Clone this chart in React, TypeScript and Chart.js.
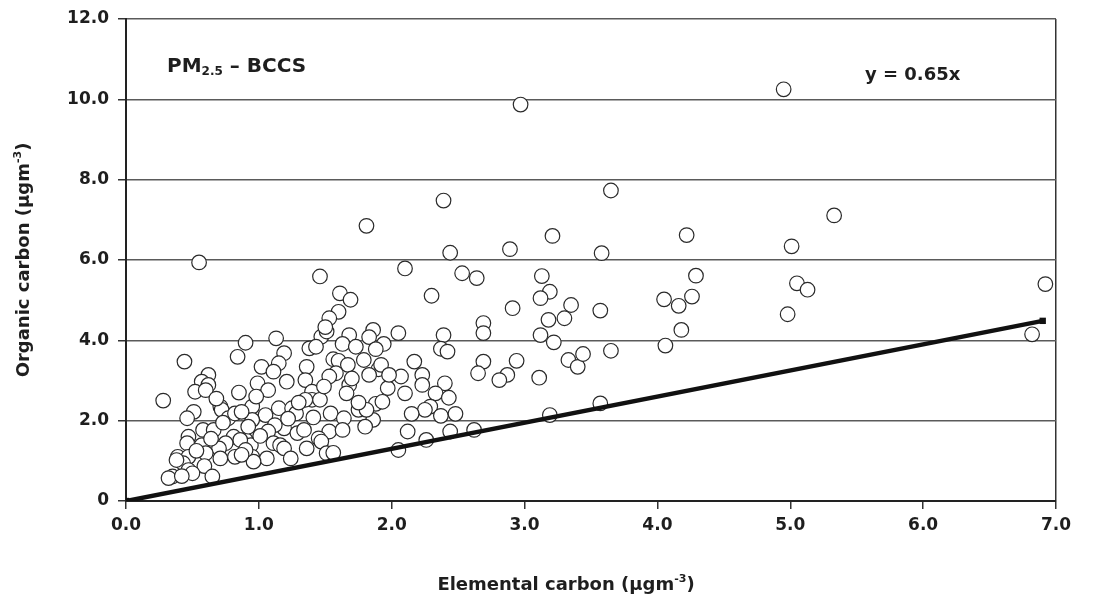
import React, { useEffect, useRef } from 'react';
import { Chart, registerables } from 'chart.js';

Chart.register(...registerables);

// Elemental carbon (x) and organic carbon (y), µg m-3
const ecValues = [
  2.97, 4.95, 3.65, 5.33, 4.22, 5.01, 3.58, 4.29, 5.05, 5.13,
  6.92, 4.05, 4.16, 4.26, 3.57, 4.98, 4.18, 4.06, 3.65, 6.82,
  3.57, 2.39, 1.81, 3.21, 2.44, 2.89, 2.10, 2.53, 2.64, 3.13,
  3.19, 3.12, 2.30, 3.35, 3.30, 3.18, 2.91, 2.69, 2.69, 2.39,
  3.12, 3.22, 2.37, 2.42, 2.05, 1.86, 1.83, 1.94, 1.88, 1.79,
  1.90, 1.83, 2.07, 2.17, 2.23, 2.23, 1.97, 2.10, 2.40, 2.33,
  2.43, 1.88, 1.76, 2.29, 2.25, 2.15, 2.37, 2.48, 2.69, 2.65,
  2.94, 2.87, 2.81, 3.11, 3.33, 3.40, 3.44, 3.19, 2.62, 1.92,
  1.98, 1.93, 1.86, 1.80, 2.12, 2.26, 2.44, 2.05, 1.13, 1.47,
  1.51, 1.68, 1.38, 1.43, 1.63, 1.73, 1.19, 1.15, 1.02, 1.11,
  1.36, 1.56, 1.60, 1.67, 1.58, 1.53, 1.35, 1.21, 0.99, 1.07,
  1.68, 1.66, 1.40, 1.40, 1.35, 1.46, 1.75, 1.81, 0.95, 1.15,
  1.25, 1.28, 1.54, 1.64, 1.41, 1.05, 0.95, 1.19, 1.12, 1.07,
  1.29, 1.34, 1.53, 1.63, 1.45, 1.47, 0.90, 0.94, 1.11, 1.16,
  1.19, 1.36, 1.06, 1.24, 0.95, 0.96, 1.51, 1.56, 0.90, 0.44,
  0.84, 0.62, 0.57, 0.62, 0.52, 0.60, 0.28, 0.85, 0.71, 0.72,
  0.51, 0.46, 0.77, 0.82, 0.87, 0.58, 0.66, 0.47, 0.46, 0.81,
  0.86, 0.75, 0.70, 0.57, 0.60, 0.90, 0.39, 0.47, 0.43, 0.71,
  0.82, 0.87, 0.59, 0.47, 0.50, 0.65, 0.35, 0.32, 0.55, 1.46,
  1.61, 1.69, 1.60, 1.53, 1.50, 1.75, 0.38, 0.42, 0.53, 0.64,
  0.73, 0.92, 1.01, 1.22, 1.30, 1.49, 1.70, 0.98, 0.68
];

const ocValues = [
  9.87, 10.25, 7.73, 7.11, 6.62, 6.34, 6.17, 5.61, 5.42, 5.26,
  5.40, 5.02, 4.86, 5.09, 4.74, 4.65, 4.26, 3.87, 3.74, 4.15,
  2.43, 7.48, 6.85, 6.60, 6.18, 6.27, 5.79, 5.67, 5.55, 5.60,
  5.21, 5.05, 5.11, 4.88, 4.55, 4.51, 4.80, 4.43, 4.18, 4.13,
  4.13, 3.95, 3.79, 3.72, 4.18, 4.26, 4.08, 3.91, 3.78, 3.51,
  3.28, 3.14, 3.10, 3.47, 3.14, 2.89, 2.81, 2.68, 2.93, 2.68,
  2.57, 2.42, 2.29, 2.35, 2.27, 2.17, 2.12, 2.17, 3.47, 3.18,
  3.49, 3.14, 3.01, 3.07, 3.51, 3.34, 3.66, 2.14, 1.77, 3.39,
  3.14, 2.47, 2.02, 1.85, 1.73, 1.52, 1.73, 1.27, 4.05, 4.09,
  4.22, 4.13, 3.80, 3.84, 3.91, 3.84, 3.68, 3.43, 3.34, 3.22,
  3.34, 3.53, 3.49, 3.39, 3.18, 3.10, 3.01, 2.97, 2.93, 2.76,
  2.89, 2.68, 2.72, 2.52, 2.52, 2.52, 2.27, 2.27, 2.35, 2.31,
  2.31, 2.18, 2.18, 2.06, 2.08, 2.14, 2.02, 1.81, 1.89, 1.73,
  1.69, 1.77, 1.73, 1.77, 1.56, 1.48, 1.52, 1.39, 1.44, 1.39,
  1.31, 1.31, 1.06, 1.06, 1.10, 0.98, 1.19, 1.20, 3.94, 3.47,
  3.59, 3.14, 2.97, 2.89, 2.72, 2.76, 2.50, 2.70, 2.35, 2.27,
  2.22, 2.06, 2.06, 2.18, 2.22, 1.77, 1.77, 1.60, 1.44, 1.60,
  1.52, 1.44, 1.31, 1.39, 1.19, 1.27, 1.10, 1.10, 0.94, 1.06,
  1.10, 1.15, 0.87, 0.77, 0.69, 0.61, 0.61, 0.57, 5.94, 5.59,
  5.17, 5.01, 4.71, 4.55, 4.33, 2.45, 1.02, 0.62, 1.25, 1.55,
  1.95, 1.85, 1.62, 2.05, 2.45, 2.85, 3.05, 2.60, 2.55
];

// Regression line y = 0.65x, end points
const fitEc = [0, 6.9];
const fitOc = [0, 4.485];

const xTickValues = [0, 1, 2, 3, 4, 5, 6, 7];
const yTickValues = [0, 2, 4, 6, 8, 10, 12];

const xTitleParts = ['Elemental carbon (µgm', '-3', ')'];
const yTitleParts = ['Organic carbon (µgm', '-3', ')'];
const panelParts = ['PM', '2.5', ' – BCCS'];
const equationText = 'y = 0.65x';

const FAMILY = '"DejaVu Sans", "Liberation Sans", sans-serif';
const TEXT = '#1e1e1e';

type Run = { t: string; size: number; dy: number };

function drawRuns(c: CanvasRenderingContext2D, runs: Run[], x: number, y: number, align: 'left' | 'center') {
  let total = 0;
  for (const r of runs) {
    c.font = `bold ${r.size}px ${FAMILY}`;
    total += c.measureText(r.t).width;
  }
  let cx = align === 'center' ? x - total / 2 : x;
  c.textAlign = 'left';
  c.textBaseline = 'alphabetic';
  for (const r of runs) {
    c.font = `bold ${r.size}px ${FAMILY}`;
    c.fillText(r.t, cx, y + r.dy);
    cx += c.measureText(r.t).width;
  }
}

const textPlugin = {
  id: 'figureTexts',
  afterDraw(chart: any) {
    const c: CanvasRenderingContext2D = chart.ctx;
    c.save();
    c.fillStyle = TEXT;
    // x-axis title
    drawRuns(c, [
      { t: xTitleParts[0], size: 18, dy: 0 },
      { t: xTitleParts[1], size: 11, dy: -8 },
      { t: xTitleParts[2], size: 18, dy: 0 },
    ], 566, 590, 'center');
    // y-axis title
    c.save();
    c.translate(29, (chart.chartArea.top + chart.chartArea.bottom) / 2);
    c.rotate(-Math.PI / 2);
    drawRuns(c, [
      { t: yTitleParts[0], size: 18, dy: 0 },
      { t: yTitleParts[1], size: 11, dy: -8 },
      { t: yTitleParts[2], size: 18, dy: 0 },
    ], 0, 0, 'center');
    c.restore();
    // panel label
    drawRuns(c, [
      { t: panelParts[0], size: 20, dy: 0 },
      { t: panelParts[1], size: 12, dy: 3 },
      { t: panelParts[2], size: 20, dy: 0 },
    ], 167, 72, 'left');
    // equation
    drawRuns(c, [{ t: equationText, size: 18, dy: 0 }], 865, 80, 'left');
    c.restore();
  },
};

export default function App() {
  const ref = useRef<HTMLCanvasElement>(null);
  useEffect(() => {
    const canvas = ref.current;
    if (!canvas) return;
    const points = ecValues.map((x, i) => ({ x, y: ocValues[i] }));
    const fit = fitEc.map((x, i) => ({ x, y: fitOc[i] }));
    const tickFont = { family: FAMILY, size: 17, weight: 'bold' as const };
    const chart = new Chart(canvas, {
      type: 'scatter',
      data: {
        datasets: [
          {
            type: 'line',
            label: 'y = 0.65x',
            data: fit,
            borderColor: '#111',
            backgroundColor: '#111',
            borderWidth: 4.5,
            pointStyle: 'rect',
            pointRadius: 4.5,
            pointBorderWidth: 0,
            order: 0,
          } as any,
          {
            label: 'PM2.5 – BCCS',
            data: points,
            pointStyle: 'circle',
            pointRadius: 7.3,
            pointBorderWidth: 1.2,
            borderColor: '#2a2a2a',
            backgroundColor: '#ffffff',
            order: 1,
          },
        ],
      },
      options: {
        responsive: false,
        animation: false,
        events: [],
        layout: { padding: { top: 19, right: 53, left: 0, bottom: 0 } },
        plugins: { legend: { display: false }, tooltip: { enabled: false }, title: { display: false } },
        scales: {
          x: {
            type: 'linear',
            min: 0,
            max: 7,
            afterBuildTicks: (s: any) => { s.ticks = xTickValues.map((v) => ({ value: v })); },
            afterFit: (s: any) => { s.height = 107; s.paddingLeft = 0; s.paddingRight = 0; },
            ticks: {
              font: tickFont,
              color: TEXT,
              padding: 6,
              maxRotation: 0,
              autoSkip: false,
              callback: (v: any) => Number(v).toFixed(1),
            },
            grid: {
              drawOnChartArea: true,
              color: (ctx: any) => (ctx.tick && ctx.tick.value === 7 ? '#333' : 'rgba(0,0,0,0)'),
              tickColor: '#333',
              tickLength: 8,
              lineWidth: 1.5,
            },
            border: { color: '#222', width: 2 },
          },
          y: {
            type: 'linear',
            min: 0,
            max: 12,
            afterBuildTicks: (s: any) => { s.ticks = yTickValues.map((v) => ({ value: v })); },
            afterFit: (s: any) => { s.width = 126; s.paddingTop = 0; s.paddingBottom = 0; },
            ticks: {
              font: tickFont,
              color: TEXT,
              padding: 9,
              autoSkip: false,
              callback: (v: any) => (Number(v) === 0 ? '0' : Number(v).toFixed(1)),
            },
            grid: {
              color: '#5a5a5a',
              tickColor: '#333',
              tickLength: 8,
              lineWidth: 1.5,
            },
            border: { color: '#222', width: 2 },
          },
        },
      },
      plugins: [textPlugin],
    });
    return () => chart.destroy();
  }, []);
  return (
    <div style={{ position: 'absolute', left: 0, top: 0, width: 1109, height: 608, background: '#fff' }}>
      <canvas ref={ref} width={1109} height={608} style={{ display: 'block' }} />
    </div>
  );
}
